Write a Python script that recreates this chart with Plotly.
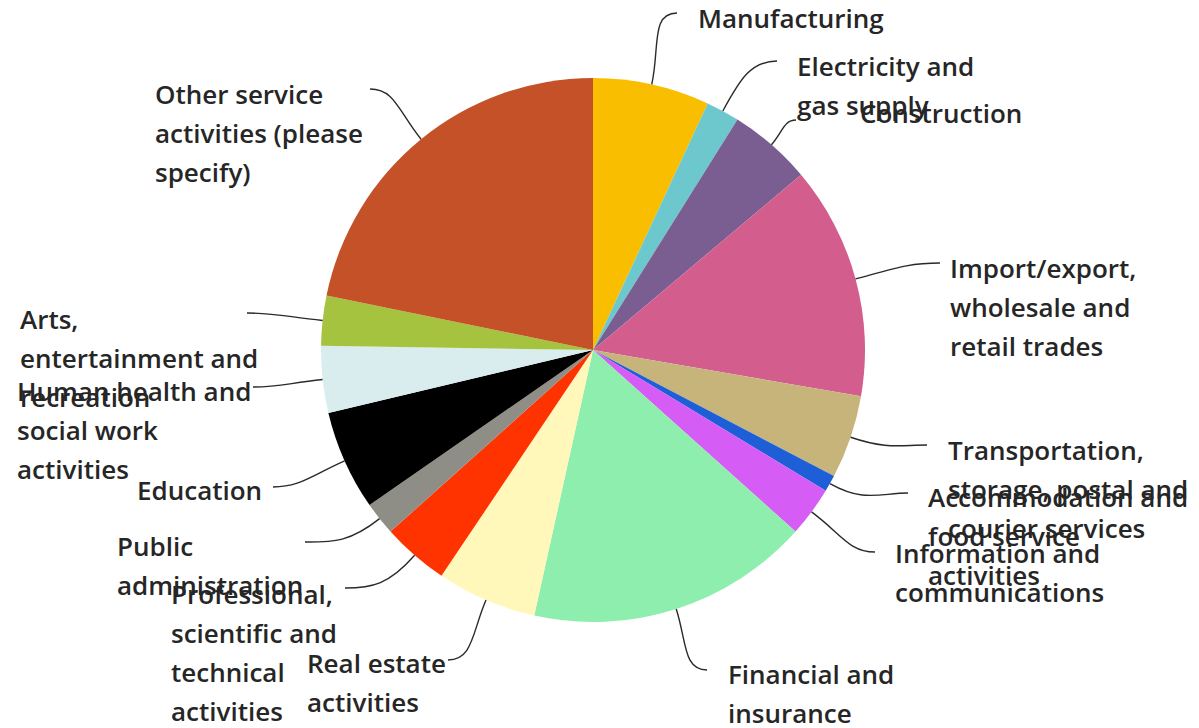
import math
import plotly.graph_objects as go

# ---- data ----
categories = [
    "Manufacturing", "Electricity and gas supply", "Construction",
    "Import/export, wholesale and retail trades",
    "Transportation, storage, postal and courier services",
    "Accommodation and food service activities",
    "Information and communications", "Financial and insurance",
    "Real estate activities", "Professional, scientific and technical activities",
    "Public administration", "Education", "Human health and social work activities",
    "Arts, entertainment and recreation", "Other service activities (please specify)",
]
values = [7, 2, 5, 14, 5, 1, 3, 17, 6, 4, 2, 6, 4, 3, 22]
label_lines = [
    ["Manufacturing"],
    ["Electricity and", "gas supply"],
    ["Construction"],
    ["Import/export,", "wholesale and", "retail trades"],
    ["Transportation,", "storage, postal and", "courier services"],
    ["Accommodation and", "food service", "activities"],
    ["Information and", "communications"],
    ["Financial and", "insurance"],
    ["Real estate", "activities"],
    ["Professional,", "scientific and", "technical", "activities"],
    ["Public", "administration"],
    ["Education"],
    ["Human health and", "social work", "activities"],
    ["Arts,", "entertainment and", "recreation"],
    ["Other service", "activities (please", "specify)"],
]

# ---- styles / layout ----
colors = ["#F9BE00", "#6CC8CC", "#7B5E91", "#D35E8E", "#C6B47A", "#1E5FD8",
          "#D65CF6", "#8DEEAE", "#FFF8BA", "#FF3300", "#8E8E86", "#000000",
          "#D9EDEE", "#A6C33F", "#C45127"]
FW, FH = 1199, 728
CX, CY, R = 593, 350, 272   # screen pixels
LINE_H = 39
FONT_SIZE = 26
# label text anchor (left x, first line middle y) and leader end point, screen pixels
label_pos = [(696, 18), (795, 66), (858, 113), (948, 268), (946, 450), (926, 497),
             (893, 553), (726, 674), (305, 663), (169, 594), (115, 546), (135, 490),
             (15, 391), (18, 319), (153, 94)]
leader_end = [(677, 13), (777, 61), (796, 120), (940, 263), (927, 445), (908, 493),
              (875, 552), (707, 670), (448, 660), (345, 588), (305, 542), (273, 487),
              (253, 387), (247, 313), (370, 89)]


def px(x):
    return x / FW


def py(y):
    return 1 - y / FH


fig = go.Figure(go.Pie(
    labels=categories, values=values, sort=False, direction="clockwise",
    rotation=0, textinfo="none", marker=dict(colors=colors, line=dict(width=0)),
    domain=dict(x=[px(CX - R), px(CX + R)], y=[py(CY + R), py(CY - R)]),
    showlegend=False, hoverinfo="label+value+percent",
))

annotations = []
shapes = []
total = sum(values)
cum = 0
for i, v in enumerate(values):
    mid = (cum + v / 2) / total * 2 * math.pi
    cum += v
    dx, dy = math.sin(mid), -math.cos(mid)
    sx, sy = CX + R * dx, CY + R * dy
    ex, ey = leader_end[i]
    d = math.hypot(ex - sx, ey - sy)
    side = 1 if ex > sx else -1
    c1x, c1y = sx + dx * d * 0.5, sy + dy * d * 0.5
    c2x, c2y = ex - side * d * 0.35, ey
    path = (f"M {px(sx)} {py(sy)} C {px(c1x)} {py(c1y)}, {px(c2x)} {py(c2y)}, "
            f"{px(ex)} {py(ey)}")
    shapes.append(dict(type="path", path=path, xref="paper", yref="paper",
                       line=dict(color="#2a2a2a", width=1.4)))
    lx, ly = label_pos[i]
    for j, line in enumerate(label_lines[i]):
        annotations.append(dict(
            text=line, x=px(lx), y=py(ly + j * LINE_H), xref="paper", yref="paper",
            xanchor="left", yanchor="middle", showarrow=False,
            font=dict(family="Open Sans", size=FONT_SIZE, color="#262626", weight=600),
        ))

fig.update_layout(
    width=FW, height=FH, margin=dict(l=0, r=0, t=0, b=0),
    paper_bgcolor="white", plot_bgcolor="white",
    annotations=annotations, shapes=shapes,
)
fig.write_html(
    "out.html",
    config={"displayModeBar": False},
    post_script="document.body.style.margin='0';document.body.style.overflow='hidden';",
)
